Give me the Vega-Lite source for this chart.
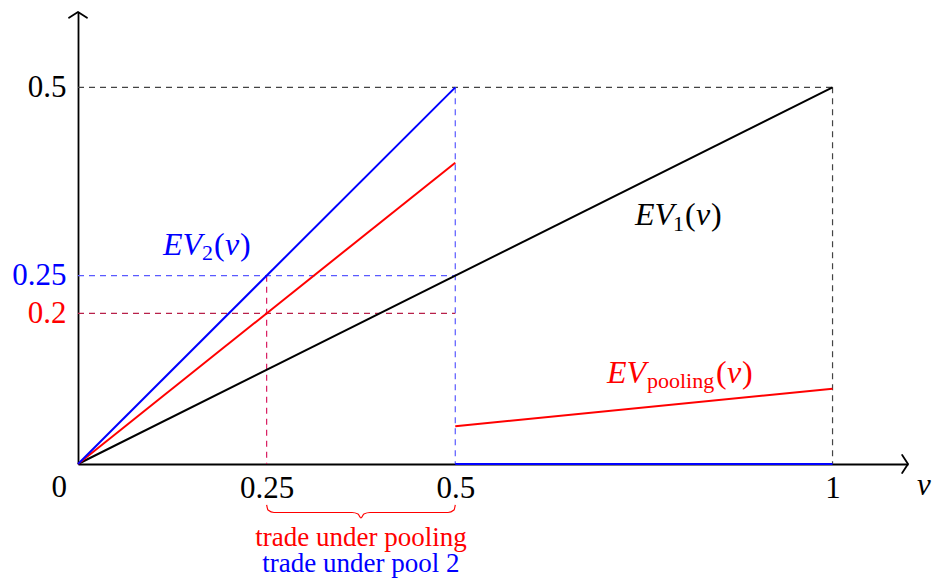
{
  "$schema": "https://vega.github.io/schema/vega-lite/v6.json",
  "width": 830,
  "height": 452,
  "autosize": {"type": "none"},
  "padding": {"left": 78, "top": 12, "right": 25, "bottom": 114},
  "background": "#ffffff",
  "config": {"view": {"stroke": null}},
  "datasets": {
    "guides": [
      {"series": "bounds", "x": 0, "y": 0.5, "x2": 1, "y2": 0.5},
      {"series": "bounds", "x": 1, "y": 0.5, "x2": 1, "y2": 0},
      {"series": "EV2 guide", "x": 0.5, "y": 0.5, "x2": 0.5, "y2": 0},
      {"series": "EV2 guide", "x": 0, "y": 0.25, "x2": 0.5, "y2": 0.25},
      {"series": "pooling guide", "x": 0, "y": 0.2, "x2": 0.5, "y2": 0.2},
      {"series": "trade guide", "x": 0.25, "y": 0.25, "x2": 0.25, "y2": 0}
    ],
    "curves": [
      {"series": "EV1", "x": 0, "y": 0, "x2": 1, "y2": 0.5},
      {"series": "EVpooling", "x": 0, "y": 0, "x2": 0.5, "y2": 0.4},
      {"series": "EVpooling", "x": 0.5, "y": 0.05, "x2": 1, "y2": 0.1},
      {"series": "EV2", "x": 0, "y": 0, "x2": 0.5, "y2": 0.5},
      {"series": "EV2", "x": 0.5, "y": 0, "x2": 1, "y2": 0}
    ],
    "brace": [
      {"x": 0.25, "y": -0.0544},
      {"x": 0.2518, "y": -0.0611},
      {"x": 0.2598, "y": -0.0644},
      {"x": 0.3632, "y": -0.0644},
      {"x": 0.3711, "y": -0.0664},
      {"x": 0.375, "y": -0.0717},
      {"x": 0.3789, "y": -0.0664},
      {"x": 0.387, "y": -0.0644},
      {"x": 0.4904, "y": -0.0644},
      {"x": 0.4983, "y": -0.0611},
      {"x": 0.5, "y": -0.0544}
    ],
    "arrows": [
      {"axis": "x", "x": 1.1, "y": 0},
      {"axis": "y", "x": 0, "y": 0.6}
    ],
    "mathItalic": [
      {"series": "EV2", "x": 0.1127, "y": 0.2775, "text": "EV"},
      {"series": "EV2", "x": 0.1948, "y": 0.2775, "text": "v"},
      {"series": "EV1", "x": 0.7382, "y": 0.3173, "text": "EV"},
      {"series": "EV1", "x": 0.8191, "y": 0.3173, "text": "v"},
      {"series": "EVpooling", "x": 0.7011, "y": 0.1075, "text": "EV"},
      {"series": "EVpooling", "x": 0.8601, "y": 0.1075, "text": "v"}
    ],
    "mathParens": [
      {"series": "EV2", "x": 0.1803, "y": 0.2775, "text": "("},
      {"series": "EV2", "x": 0.2147, "y": 0.2775, "text": ")"},
      {"series": "EV1", "x": 0.8045, "y": 0.3173, "text": "("},
      {"series": "EV1", "x": 0.839, "y": 0.3173, "text": ")"},
      {"series": "EVpooling", "x": 0.8455, "y": 0.1075, "text": "("},
      {"series": "EVpooling", "x": 0.88, "y": 0.1075, "text": ")"}
    ],
    "mathSub": [
      {"series": "EV2", "x": 0.1643, "y": 0.2708, "text": "2"},
      {"series": "EV1", "x": 0.7886, "y": 0.3093, "text": "1"},
      {"series": "EVpooling", "x": 0.7541, "y": 0.1009, "text": "pooling"}
    ],
    "origin": [{"x": -0.025, "y": -0.0438, "text": "0"}],
    "varLabel": [{"x": 1.112, "y": -0.041, "text": "v"}],
    "notes": [
      {"series": "EVpooling", "x": 0.375, "y": -0.1089, "text": "trade under pooling"},
      {"series": "EV2", "x": 0.375, "y": -0.1434, "text": "trade under pool 2"}
    ]
  },
  "encoding": {
    "x": {
      "field": "x", "type": "quantitative",
      "scale": {"domain": [0, 1.1], "nice": false, "zero": false},
      "axis": {
        "values": [0.25, 0.5, 1], "labelExpr": "'' + datum.value", "title": null, "grid": false,
        "ticks": false, "tickSize": 0, "domainColor": "#000000", "domainWidth": 1.8,
        "labelFont": "Liberation Serif", "labelFontSize": 31, "labelColor": "#000000",
        "labelPadding": 33, "labelBaseline": "alphabetic", "labelFlush": false,
        "labelOverlap": false, "labelBound": false
      }
    },
    "y": {
      "field": "y", "type": "quantitative",
      "scale": {"domain": [0, 0.6], "nice": false, "zero": false},
      "axis": {
        "values": [0.2, 0.25, 0.5], "labelExpr": "'' + datum.value", "title": null, "grid": false,
        "ticks": false, "tickSize": 0, "domainColor": "#000000", "domainWidth": 1.8,
        "labelFont": "Liberation Serif", "labelFontSize": 31,
        "labelPadding": 12, "labelBaseline": "middle", "labelAlign": "right",
        "labelFlush": false, "labelOverlap": false, "labelBound": false,
        "labelColor": {
          "condition": [
            {"test": "datum.value == 0.25", "value": "#0000ff"},
            {"test": "datum.value == 0.2", "value": "#ff0000"}
          ],
          "value": "#000000"
        }
      }
    }
  },
  "layer": [
    {
      "data": {"name": "guides"},
      "mark": {"type": "rule", "strokeDash": [6, 5], "strokeWidth": 1.2},
      "encoding": {
        "x2": {"field": "x2"},
        "y2": {"field": "y2"},
        "color": {"field": "series", "type": "nominal", "legend": null,
          "scale": {"domain": ["EV2", "EVpooling", "EV1", "bounds", "EV2 guide", "pooling guide", "trade guide"],
                    "range": ["#0000ff", "#ff0000", "#000000", "#444444", "#5a5aff", "#b8204a", "#d81b60"]}}
      }
    },
    {
      "data": {"name": "curves"},
      "mark": {"type": "rule", "strokeWidth": 2},
      "encoding": {
        "x2": {"field": "x2"},
        "y2": {"field": "y2"},
        "color": {"field": "series", "type": "nominal", "legend": null,
          "scale": {"domain": ["EV2", "EVpooling", "EV1", "bounds", "EV2 guide", "pooling guide", "trade guide"],
                    "range": ["#0000ff", "#ff0000", "#000000", "#444444", "#5a5aff", "#b8204a", "#d81b60"]}}
      }
    },
    {
      "data": {"name": "brace"},
      "mark": {"type": "line", "interpolate": "monotone", "color": "#ff0000", "strokeWidth": 1.2},
      "encoding": {}
    },
    {
      "data": {"name": "arrows"},
      "transform": [{"filter": "datum.axis == 'x'"}],
      "mark": {"type": "point", "shape": "M -0.65 -1 L 0 0 L -0.65 1", "filled": false, "size": 324,
               "color": "#000000", "strokeWidth": 1.8, "opacity": 1, "strokeCap": "round", "strokeJoin": "round"}
    },
    {
      "data": {"name": "arrows"},
      "transform": [{"filter": "datum.axis == 'y'"}],
      "mark": {"type": "point", "shape": "M -1 0.65 L 0 0 L 1 0.65", "filled": false, "size": 324,
               "color": "#000000", "strokeWidth": 1.8, "opacity": 1, "strokeCap": "round", "strokeJoin": "round"}
    },
    {
      "data": {"name": "mathItalic"},
      "mark": {"type": "text", "font": "Liberation Serif", "fontStyle": "italic", "fontSize": 32, "align": "left", "baseline": "alphabetic"},
      "encoding": {
        "text": {"field": "text"},
        "color": {"field": "series", "type": "nominal", "legend": null,
          "scale": {"domain": ["EV2", "EVpooling", "EV1", "bounds", "EV2 guide", "pooling guide", "trade guide"],
                    "range": ["#0000ff", "#ff0000", "#000000", "#444444", "#5a5aff", "#b8204a", "#d81b60"]}}
      }
    },
    {
      "data": {"name": "mathParens"},
      "mark": {"type": "text", "font": "Liberation Serif", "fontSize": 32, "align": "left", "baseline": "alphabetic"},
      "encoding": {
        "text": {"field": "text"},
        "color": {"field": "series", "type": "nominal", "legend": null,
          "scale": {"domain": ["EV2", "EVpooling", "EV1", "bounds", "EV2 guide", "pooling guide", "trade guide"],
                    "range": ["#0000ff", "#ff0000", "#000000", "#444444", "#5a5aff", "#b8204a", "#d81b60"]}}
      }
    },
    {
      "data": {"name": "mathSub"},
      "mark": {"type": "text", "font": "Liberation Serif", "fontSize": 22, "align": "left", "baseline": "alphabetic"},
      "encoding": {
        "text": {"field": "text"},
        "color": {"field": "series", "type": "nominal", "legend": null,
          "scale": {"domain": ["EV2", "EVpooling", "EV1", "bounds", "EV2 guide", "pooling guide", "trade guide"],
                    "range": ["#0000ff", "#ff0000", "#000000", "#444444", "#5a5aff", "#b8204a", "#d81b60"]}}
      }
    },
    {
      "data": {"name": "origin"},
      "mark": {"type": "text", "font": "Liberation Serif", "fontSize": 31, "align": "center", "baseline": "alphabetic", "color": "#000000"},
      "encoding": {"text": {"field": "text"}}
    },
    {
      "data": {"name": "varLabel"},
      "mark": {"type": "text", "font": "Liberation Serif", "fontStyle": "italic", "fontSize": 31, "align": "left", "baseline": "alphabetic", "color": "#000000"},
      "encoding": {"text": {"field": "text"}}
    },
    {
      "data": {"name": "notes"},
      "mark": {"type": "text", "font": "Liberation Serif", "fontSize": 27, "align": "center", "baseline": "alphabetic"},
      "encoding": {
        "text": {"field": "text"},
        "color": {"field": "series", "type": "nominal", "legend": null,
          "scale": {"domain": ["EV2", "EVpooling", "EV1", "bounds", "EV2 guide", "pooling guide", "trade guide"],
                    "range": ["#0000ff", "#ff0000", "#000000", "#444444", "#5a5aff", "#b8204a", "#d81b60"]}}
      }
    }
  ]
}
